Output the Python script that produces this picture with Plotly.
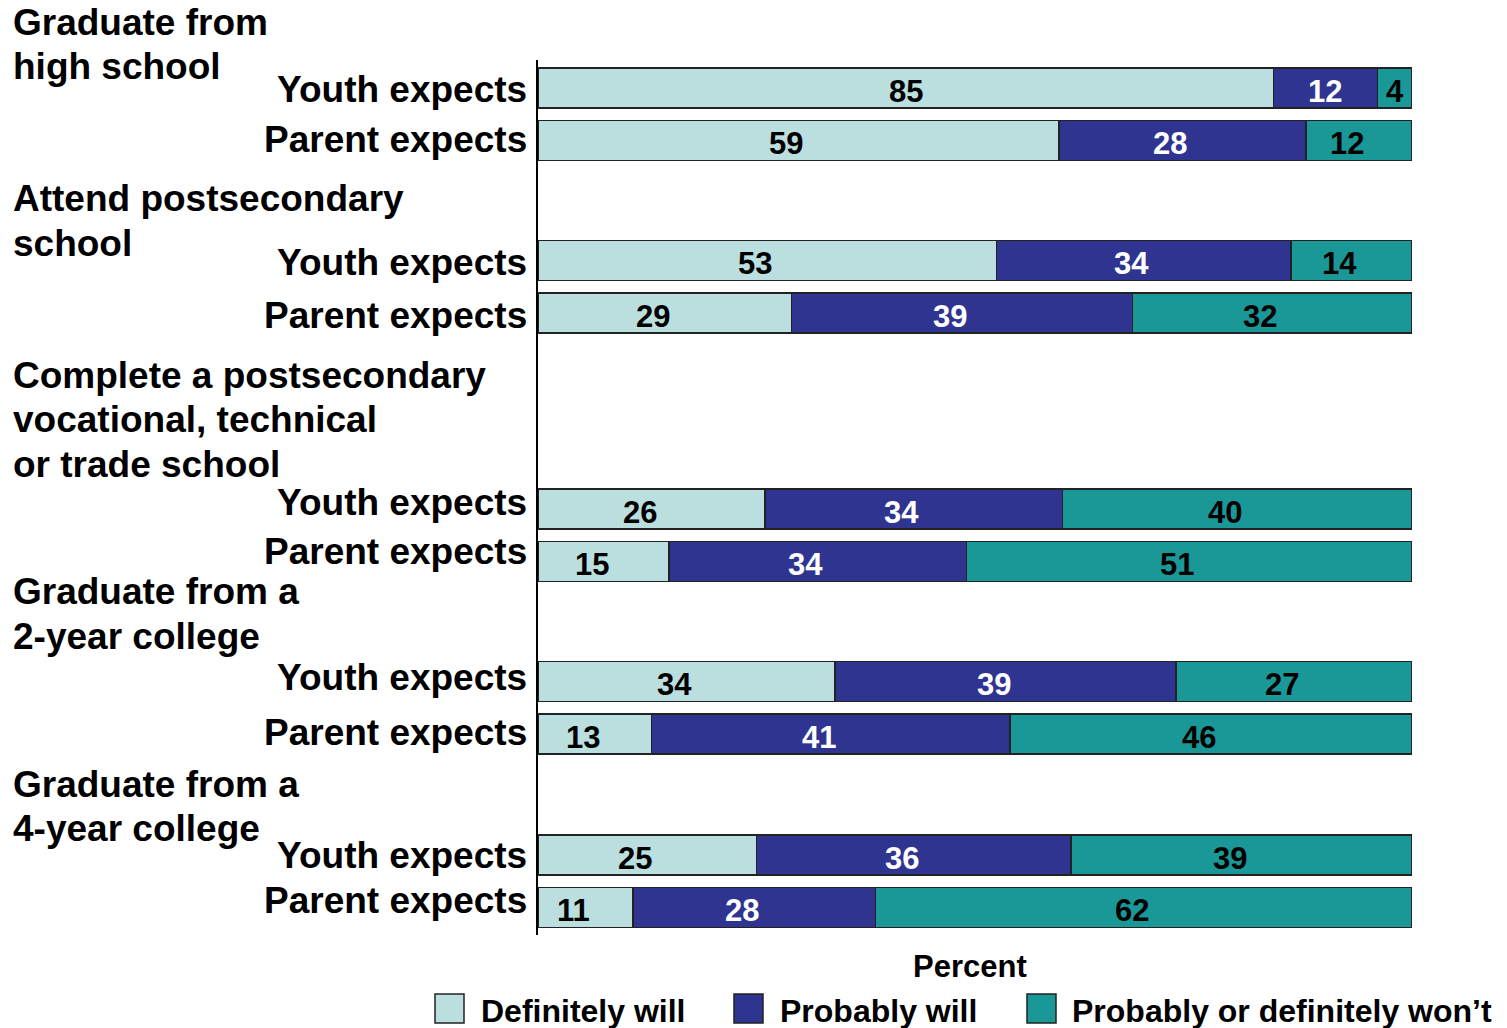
import plotly.graph_objects as go

# ---------------- data ----------------
groups = [
    ["Graduate from", "high school"],
    ["Attend postsecondary", "school"],
    ["Complete a postsecondary", "vocational, technical", "or trade school"],
    ["Graduate from a", "2-year college"],
    ["Graduate from a", "4-year college"],
]
respondents = ["Youth expects", "Parent expects"]
series_names = ["Definitely will", "Probably will", "Probably or definitely won’t"]

definitely_will = [85, 59, 53, 29, 26, 15, 34, 13, 25, 11]
probably_will = [12, 28, 34, 39, 34, 34, 39, 41, 36, 28]
wont = [4, 12, 14, 32, 40, 51, 27, 46, 39, 62]

axis_title = "Percent"

# ---------------- style / layout ----------------
W, H = 1507, 1028
L, R, T, B = 538, 1412, 60, 935
FONT = "Liberation Sans, Arial, Helvetica, sans-serif"
colors = ["#BBDEDE", "#303491", "#1A9898"]
text_colors = ["black", "white", "black"]

# vertical layout (axis units == pixels from top of plot area)
first_row = 28
pair_gap = 52.5
group_gaps = [120, 196, 120, 121]
title_first_offsets = [-66, -62, -134, -90, -71]  # first title line relative to first row
title_line_gap = 44.7
row_label_yshift = [-1, 1, -2, -2, 7, 10, 4, 2, 0, 7]       # px, + is up
value_label_xshift = [0, -12, -12, -12, -12, -12, -12, -12, -12, -12]
value_label_yshift = -3

row_pos = []
group_first = []
y = first_row
for gi in range(len(groups)):
    group_first.append(y)
    row_pos.append(y)
    row_pos.append(y + pair_gap)
    y = y + pair_gap + (group_gaps[gi] if gi < len(group_gaps) else 0)

series = [definitely_will, probably_will, wont]
totals = [sum(v) for v in zip(*series)]

def px_x(px):
    return (px - L) / (R - L)
def px_y(py):
    return (B - py) / (B - T)

fig = go.Figure()
annotations = []
base = [0.0] * len(row_pos)
for si, vals in enumerate(series):
    shares = [v / t * 100 for v, t in zip(vals, totals)]
    fig.add_trace(go.Bar(
        x=shares,
        y=row_pos,
        orientation="h",
        width=40,
        marker=dict(color=colors[si], line=dict(color="#222222", width=1.5)),
        name=series_names[si],
        showlegend=False,
        hoverinfo="skip",
    ))
    for ri, (v, s) in enumerate(zip(vals, shares)):
        annotations.append(dict(
            text="<b>%d</b>" % v, xref="x", yref="y",
            x=base[ri] + s / 2, y=row_pos[ri],
            xshift=value_label_xshift[ri], yshift=value_label_yshift,
            xanchor="center", yanchor="middle", showarrow=False,
            font=dict(family=FONT, size=31, color=text_colors[si]),
        ))
        base[ri] += s

# row labels
for ri, yp in enumerate(row_pos):
    annotations.append(dict(
        text="<b>%s</b>" % respondents[ri % 2], xref="paper", yref="y",
        x=px_x(529), y=yp, yshift=row_label_yshift[ri],
        xanchor="right", yanchor="middle", showarrow=False,
        font=dict(family=FONT, size=37, color="black"),
    ))

# group titles
for gi, lines in enumerate(groups):
    for li, line in enumerate(lines):
        ypx = T + group_first[gi] + title_first_offsets[gi] + li * title_line_gap
        annotations.append(dict(
            text="<b>%s</b>" % line, xref="paper", yref="paper",
            x=px_x(11), y=px_y(ypx),
            xanchor="left", yanchor="middle", align="left", showarrow=False,
            font=dict(family=FONT, size=37, color="black"),
        ))

annotations.append(dict(
    text="<b>%s</b>" % axis_title, xref="paper", yref="paper",
    x=px_x(970), y=px_y(967), xanchor="center", yanchor="middle",
    showarrow=False, font=dict(family=FONT, size=31, color="black"),
))

shapes = []
legend_box_x = [435, 734, 1027]
legend_text_x = [479, 778, 1070]
for si in range(3):
    shapes.append(dict(
        type="rect", xref="paper", yref="paper",
        x0=px_x(legend_box_x[si]), x1=px_x(legend_box_x[si] + 29),
        y0=px_y(994), y1=px_y(1023),
        fillcolor=colors[si], line=dict(color="#222222", width=1.5),
    ))
    annotations.append(dict(
        text="<b>%s</b>" % series_names[si], xref="paper", yref="paper",
        x=px_x(legend_text_x[si]), y=px_y(1011), xanchor="left", yanchor="middle",
        showarrow=False, font=dict(family=FONT, size=32, color="black"),
    ))

fig.update_layout(
    barmode="stack",
    width=W, height=H,
    margin=dict(l=L, r=W - R, t=T, b=H - B, pad=0),
    paper_bgcolor="white", plot_bgcolor="white",
    xaxis=dict(range=[0, 100], visible=False, fixedrange=True),
    yaxis=dict(
        range=[B - T, 0], showticklabels=False,
        showgrid=False, zeroline=False, showline=True, linecolor="black", linewidth=1.5,
        ticks="", fixedrange=True,
    ),
    annotations=annotations,
    shapes=shapes,
    showlegend=False,
)

fig.write_html(
    "out.html",
    config={"displayModeBar": False},
    post_script="document.body.style.margin='0px';document.body.style.overflow='hidden';",
)
